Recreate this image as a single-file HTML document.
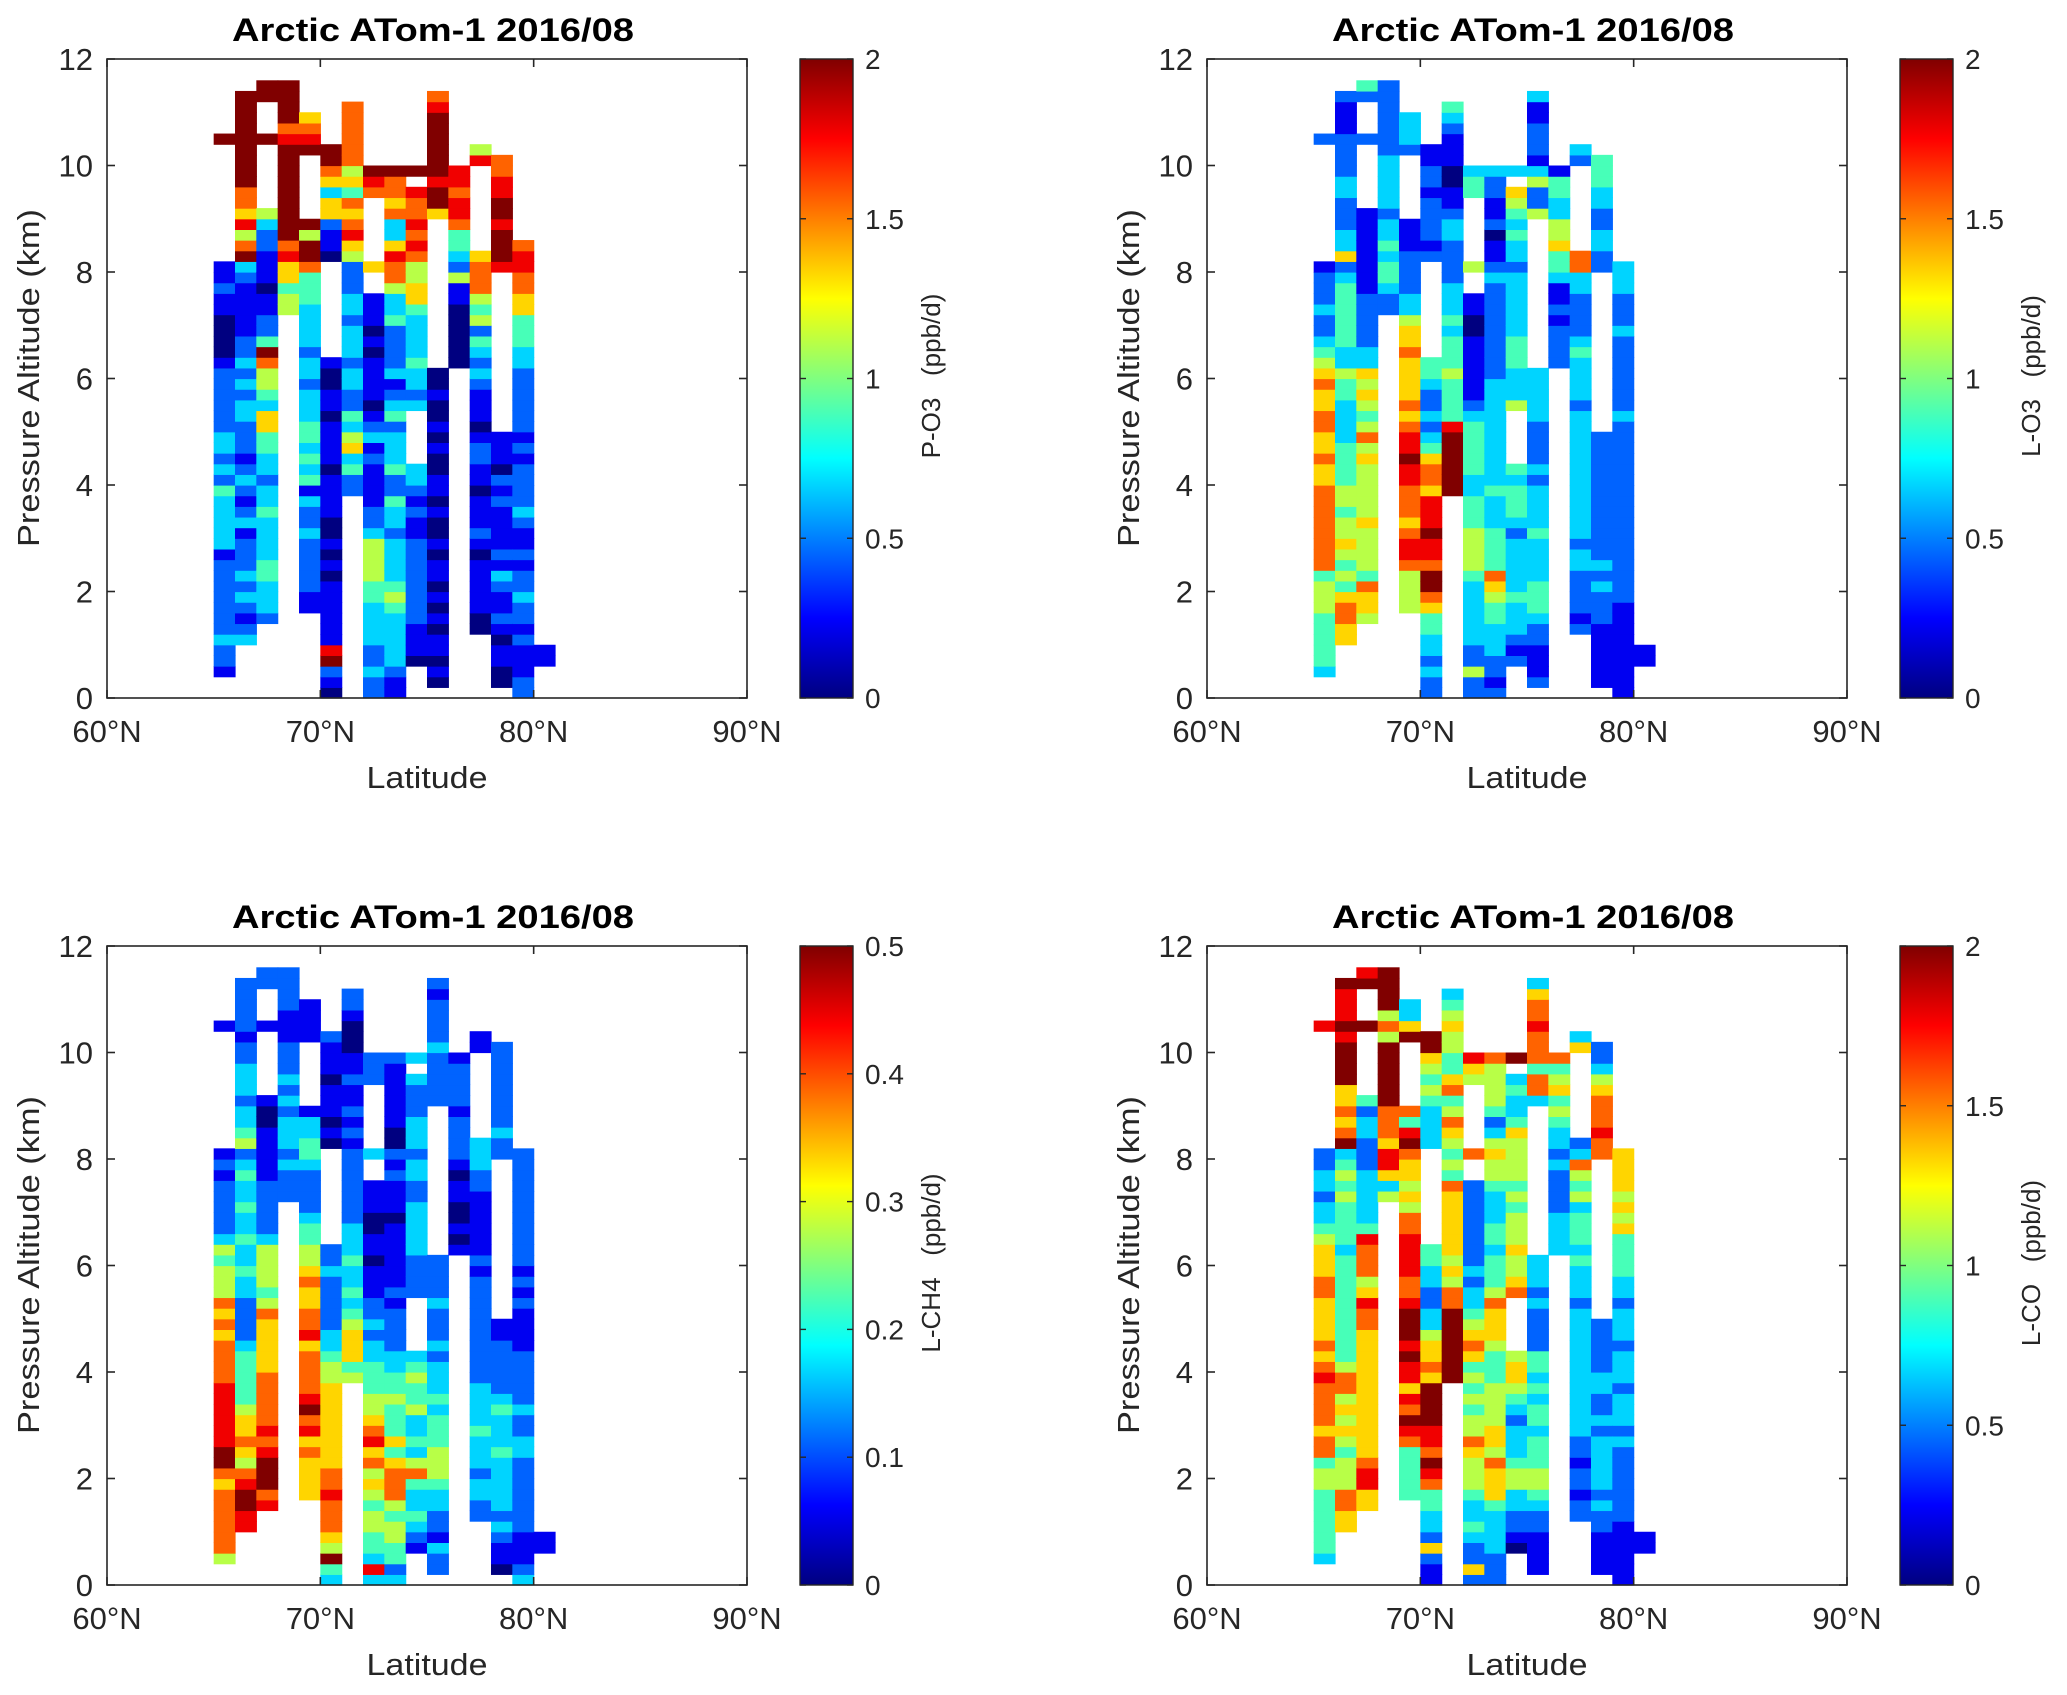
<!DOCTYPE html>
<html><head><meta charset="utf-8">
<style>
html,body{margin:0;padding:0;background:#fff;}
svg{display:block;font-family:"Liberation Sans",Arial,sans-serif;}
</style></head>
<body>
<svg id="fig" width="2067" height="1695" viewBox="0 0 2067 1695" xmlns="http://www.w3.org/2000/svg">
<defs>
<linearGradient id="jet" x1="0" y1="1" x2="0" y2="0">
<stop offset="0" stop-color="#000080"/>
<stop offset="0.125" stop-color="#0000ff"/>
<stop offset="0.375" stop-color="#00ffff"/>
<stop offset="0.625" stop-color="#ffff00"/>
<stop offset="0.875" stop-color="#ff0000"/>
<stop offset="1" stop-color="#800000"/>
</linearGradient>
</defs>
</svg>
<script>
// Each column: [latitude start, first 0.2-km altitude row, value codes 0..9 (bottom->top, spaces ignored)]
const xTickLabels = ["60°N","70°N","80°N","90°N"];
const xTickValues = [60,70,80,90];
const yTickValues = [0,2,4,6,8,10,12];
const panelTitles = ["Arctic ATom-1 2016/08","Arctic ATom-1 2016/08","Arctic ATom-1 2016/08","Arctic ATom-1 2016/08"];
const cbLabels = ["P-O3   (ppb/d)","L-O3   (ppb/d)","L-CH4   (ppb/d)","L-CO   (ppb/d)"];
const cbMax = [2,2,0.5,2];
const cbTicks1 = ["0","0.5","1","1.5","2"];
const cbTicks3 = ["0","0.1","0.2","0.3","0.4","0.5"];

const dataPO3 = [
 [65,2,"1223 2222 2221 3333 3423 2332 2222 2100 0011 211"],[65,52,"9"],
 [66,5,"3212323222132123212223323232211111239758677999999999"],
 [67,7,"233344333343323344663455794221101112235"],[67,52,"9"],[67,56,"99"],
 [68,36,"55466 87 999999999 8 7 9999"],
 [69,8,"1122222322314343443332332333344479959"],[69,51,"9876"],
 [70,0,"01298111 11101010 01111011 11011001"],[70,41,"01126636799"],
 [71,19,"2243653422332333233222568767465777777"],
 [72,0,"22322 33334 45555 32211 11213 21011 11010 111"],[72,40,"6"],[72,47,"789"],
 [73,0,"11233 33345 43333 23342 24333 24321 32222 43357 78633 76779"],
 [74,3,"01112 22222 22112 1233"],[74,27,"32334 33334 66557 87877 8"],[74,49,"9"],
 [75,1,"01011 01010 11010 01011 00101 00100"],[75,45,"69989 99999 87"],
 [76,31,"00000 01152 34478 8788"],
 [77,6,"00111 11012 11101 12210 11123 23425 45777 6"],[77,50,"85"],
 [78,1,"00110 12112 31211 11212 0111"],[78,40,"89998 99887 7"],
 [79,0,"22111 21223 22121 12322 22121 22222 23344 46677 887"],
 [80,3,"11"]
];
const dataLO3 = [
 [65,2,"34444 45554 77777 77766 76677 66765 43223 2221"],[65,52,"2"],
 [66,5,"66776 45456 55455 44443 33344 53344 44443 26332 22332 22211 12"],
 [67,7,"56674 55556 55555 65754 56563 32222 21111 1111"],[67,52,"2"],[67,56,"24"],
 [68,36,"22344 34332 33333 22222 22"],
 [69,8,"55557 88767 77889 88767 66667 66533 22221 11"],[69,51,"2333"],
 [70,0,"22323 34467 99788 98886 77643 23223 44"],[70,41,"21222 21221 1"],
 [71,19,"99999 98444 45444 34333 22223 32110 01112 34"],
 [72,0,"22522 33333 34555 54443 34444 43211 11110 011"],[72,40,"5"],[72,47,"443"],
 [73,0,"21223 33445 67444 43334 33333 33333 22222 22223 21102 11223"],
 [74,3,"21233 34333 33234 4434"],[74,27,"53334 44333 33323 34345 6"],[74,49,"3"],
 [75,1,"21112 23444 33334 33332 32222 33333"],[75,45,"52253 12221 13"],
 [76,31,"22221 21134 46553 3441"],
 [77,6,"21222 23323 33333 33333 32333 34322 22337 7"],[77,50,"23"],
 [78,1,"11111 12223 23222 22222 2222"],[78,40,"22332 23344 4"],
 [79,0,"11111 11112 22222 22222 22222 23222 22223 22233 3"],
 [80,3,"11"]
];
const dataLCH4 = [
 [65,2,"57777 77679 98888 88777 76767 55545 32222 2121"],[65,52,"1"],
 [66,5,"88998 75676 65444 44322 22334 33433 43343 25433 23332 21222 22"],
 [67,7,"87999 87877 77766 66675 45555 32222 21111 1001"],[67,52,"1"],[67,56,"22"],
 [68,36,"22232 33323 23222 11122 22"],
 [69,8,"66667 68798 77776 87766 76554 43222 23443 31"],[69,51,"1111"],
 [70,0,"34956 77787 76666 66665 54332 22223 22"],[70,41,"01011 10111 2"],
 [71,19,"54666 54343 34333 22222 22121 21121 10001 22"],
 [72,0,"38344 55456 57687 65544 43323 22111 01100 111"],[72,40,"3"],[72,47,"222"],
 [73,0,"32445 54577 76464 44544 33222 21211 11110 11121 20011 11112"],
 [74,3,"12343 34753 43354 4543"],[74,27,"22223 33332 23323 33222 3"],[74,49,"3"],
 [75,1,"22312 23345 55444 34333 23222 32222"],[75,45,"22222 32222 12"],
 [76,31,"10100 11012 22212 2221"],
 [77,6,"22332 33343 33322 22222 22212 11111 12233 3"],[77,50,"11"],
 [78,1,"01123 23333 34333 43222 2211"],[78,40,"22322 22222 2"],
 [79,0,"32111 22222 22332 23222 22111 12121 22222 22222 2"],
 [80,3,"11"]
];
const dataLCO = [
 [65,2,"34444 44554 77677 77876 76666 77666 54332 3322"],[65,52,"8"],
 [66,5,"66775 55456 56577 54444 44444 43444 45454 39767 66999 98988 89"],
 [67,7,"66887 66666 66666 66778 65777 84333 33222 3324"],[67,52,"9"],[67,56,"98"],
 [68,36,"53688 67779 99999 57599 99"],
 [69,8,"44444 78978 68898 99987 78888 77565 66798 47"],[69,51,"9633"],
 [70,0,"11262 33447 89788 99996 76653 32233 44"],[70,41,"33334 54569 9"],
 [71,19,"99999 99775 65666 66674 54567 54764 45565 43"],
 [72,0,"26223 43345 55675 54545 46765 43323 22222 222"],[72,40,"7"],[72,47,"568"],
 [73,0,"22233 33466 67566 55554 44566 67544 43443 33455 65324 55557"],
 [74,3,"01223 35543 33234 5665"],[74,27,"76556 55545 45555 64334 3"],[74,49,"9"],
 [75,1,"11112 23455 44434 43434 42222 32333"],[75,45,"37747 77877 63"],
 [76,31,"33332 22232 33454 6547"],
 [77,6,"22122 12233 33333 33333 23334 34443 54573 2"],[77,50,"63"],
 [78,1,"11112 23233 33323 22332 2222"],[78,40,"77877 76532 2"],
 [79,0,"11111 12222 22232 33323 33233 32334 44465 65666 6"],
 [80,3,"11"]
];
const panelData = [dataPO3, dataLO3, dataLCH4, dataLCO];

const NS = "http://www.w3.org/2000/svg";
const svg = document.getElementById('fig');
const AX_L = 107, AX_R = 747, AX_T = 59, AX_B = 698;
const LAT0 = 60, LAT1 = 90, ALT0 = 0, ALT1 = 12, ROW_H = 0.2;
const offsets = [[0,0],[1100,0],[0,887],[1100,887]];

function mk(tag, attrs, parent){
  const e = document.createElementNS(NS, tag);
  for (const k in attrs) e.setAttribute(k, attrs[k]);
  parent.appendChild(e);
  return e;
}
function jet(t){
  t = Math.max(0, Math.min(1, t));
  const c = v => Math.round(255*Math.max(0, Math.min(1, v)));
  return `rgb(${c(1.5-Math.abs(4*t-3))},${c(1.5-Math.abs(4*t-2))},${c(1.5-Math.abs(4*t-1))})`;
}

panelData.forEach((data, p) => {
  const [dx, dy] = offsets[p];
  const xs = lat => dx + AX_L + (lat-LAT0)/(LAT1-LAT0)*(AX_R-AX_L);
  const ys = alt => dy + AX_B - (alt-ALT0)/(ALT1-ALT0)*(AX_B-AX_T);
  const g = mk('g', {}, svg);
  
  

  const hm = mk('g', {}, g);
  
  
  const maxV = cbMax[p];
  data.forEach(([lat, r0, codes]) => {
    const s = codes.replace(/\s+/g, '');
    for (let i = 0; i < s.length; i++) {
      const val = (+s[i]) / 9 * maxV;
      const alt = (r0 + i) * ROW_H;
      const x0 = xs(lat), x1 = xs(lat+1), y0 = ys(alt+ROW_H), y1 = ys(alt);
      const r = mk('rect', {x: x0.toFixed(2), y: y0.toFixed(2), width: (x1-x0+0.6).toFixed(2), height: (y1-y0+0.6).toFixed(2), fill: jet(val/maxV)}, hm);
      
      
    }
  });

  const box = mk('rect', {x: dx+AX_L, y: dy+AX_T, width: AX_R-AX_L, height: AX_B-AX_T, fill: 'none', stroke: '#262626', 'stroke-width': 1.6}, g);
  
  

  xTickValues.forEach((v, i) => {
    const x = xs(v);
    mk('line', {x1: x, y1: dy+AX_B, x2: x, y2: dy+AX_B-8, stroke: '#262626', 'stroke-width': 1.6}, g);
    mk('line', {x1: x, y1: dy+AX_T, x2: x, y2: dy+AX_T+8, stroke: '#262626', 'stroke-width': 1.6}, g);
    const t = mk('text', {x: x, y: dy+742, 'font-size': 31, 'text-anchor': 'middle', fill: '#262626'}, g);
    t.textContent = xTickLabels[i];
    
    
  });
  yTickValues.forEach(v => {
    const y = ys(v);
    mk('line', {x1: dx+AX_L, y1: y, x2: dx+AX_L+8, y2: y, stroke: '#262626', 'stroke-width': 1.6}, g);
    mk('line', {x1: dx+AX_R, y1: y, x2: dx+AX_R-8, y2: y, stroke: '#262626', 'stroke-width': 1.6}, g);
    const t = mk('text', {x: dx+93, y: y+11, 'font-size': 31, 'text-anchor': 'end', fill: '#262626'}, g);
    t.textContent = String(v);
    
    
  });

  const ti = mk('text', {x: dx+433, y: dy+41, 'font-size': 32, 'font-weight': 'bold', 'text-anchor': 'middle', fill: '#000', textLength: 402, lengthAdjust: 'spacingAndGlyphs'}, g);
  ti.textContent = panelTitles[p];
  
  

  const xl = mk('text', {x: dx+427, y: dy+788, 'font-size': 31, 'text-anchor': 'middle', fill: '#262626', textLength: 121, lengthAdjust: 'spacingAndGlyphs'}, g);
  xl.textContent = 'Latitude';
  
  
  const yl = mk('text', {x: 0, y: 0, 'font-size': 31, 'text-anchor': 'middle', fill: '#262626', transform: `translate(${dx+39},${dy+378}) rotate(-90)`, textLength: 338, lengthAdjust: 'spacingAndGlyphs'}, g);
  yl.textContent = 'Pressure Altitude (km)';
  
  

  const CB_L = dx+800, CB_R = dx+853;
  const cb = mk('rect', {x: CB_L, y: dy+AX_T, width: CB_R-CB_L, height: AX_B-AX_T, fill: 'url(#jet)', stroke: '#262626', 'stroke-width': 1.4}, g);
  
  
  const ticks = (p === 2) ? cbTicks3 : cbTicks1;
  ticks.forEach((lab, i) => {
    const y = dy + AX_B - i/(ticks.length-1)*(AX_B-AX_T);
    mk('line', {x1: CB_R, y1: y, x2: CB_R-6, y2: y, stroke: '#262626', 'stroke-width': 1.4}, g);
    mk('line', {x1: CB_L, y1: y, x2: CB_L+6, y2: y, stroke: '#262626', 'stroke-width': 1.4}, g);
    const t = mk('text', {x: CB_R+12, y: y+10, 'font-size': 28, fill: '#262626'}, g);
    t.textContent = lab;
    
    
  });
  const cl = mk('text', {x: 0, y: 0, 'font-size': 26, 'text-anchor': 'middle', fill: '#262626', transform: `translate(${dx+940},${dy+376}) rotate(-90)`}, g);
  cl.setAttribute('xml:space', 'preserve');
  cl.style.whiteSpace = 'pre';
  cl.textContent = cbLabels[p];
  
  
});
</script>
</body></html>
